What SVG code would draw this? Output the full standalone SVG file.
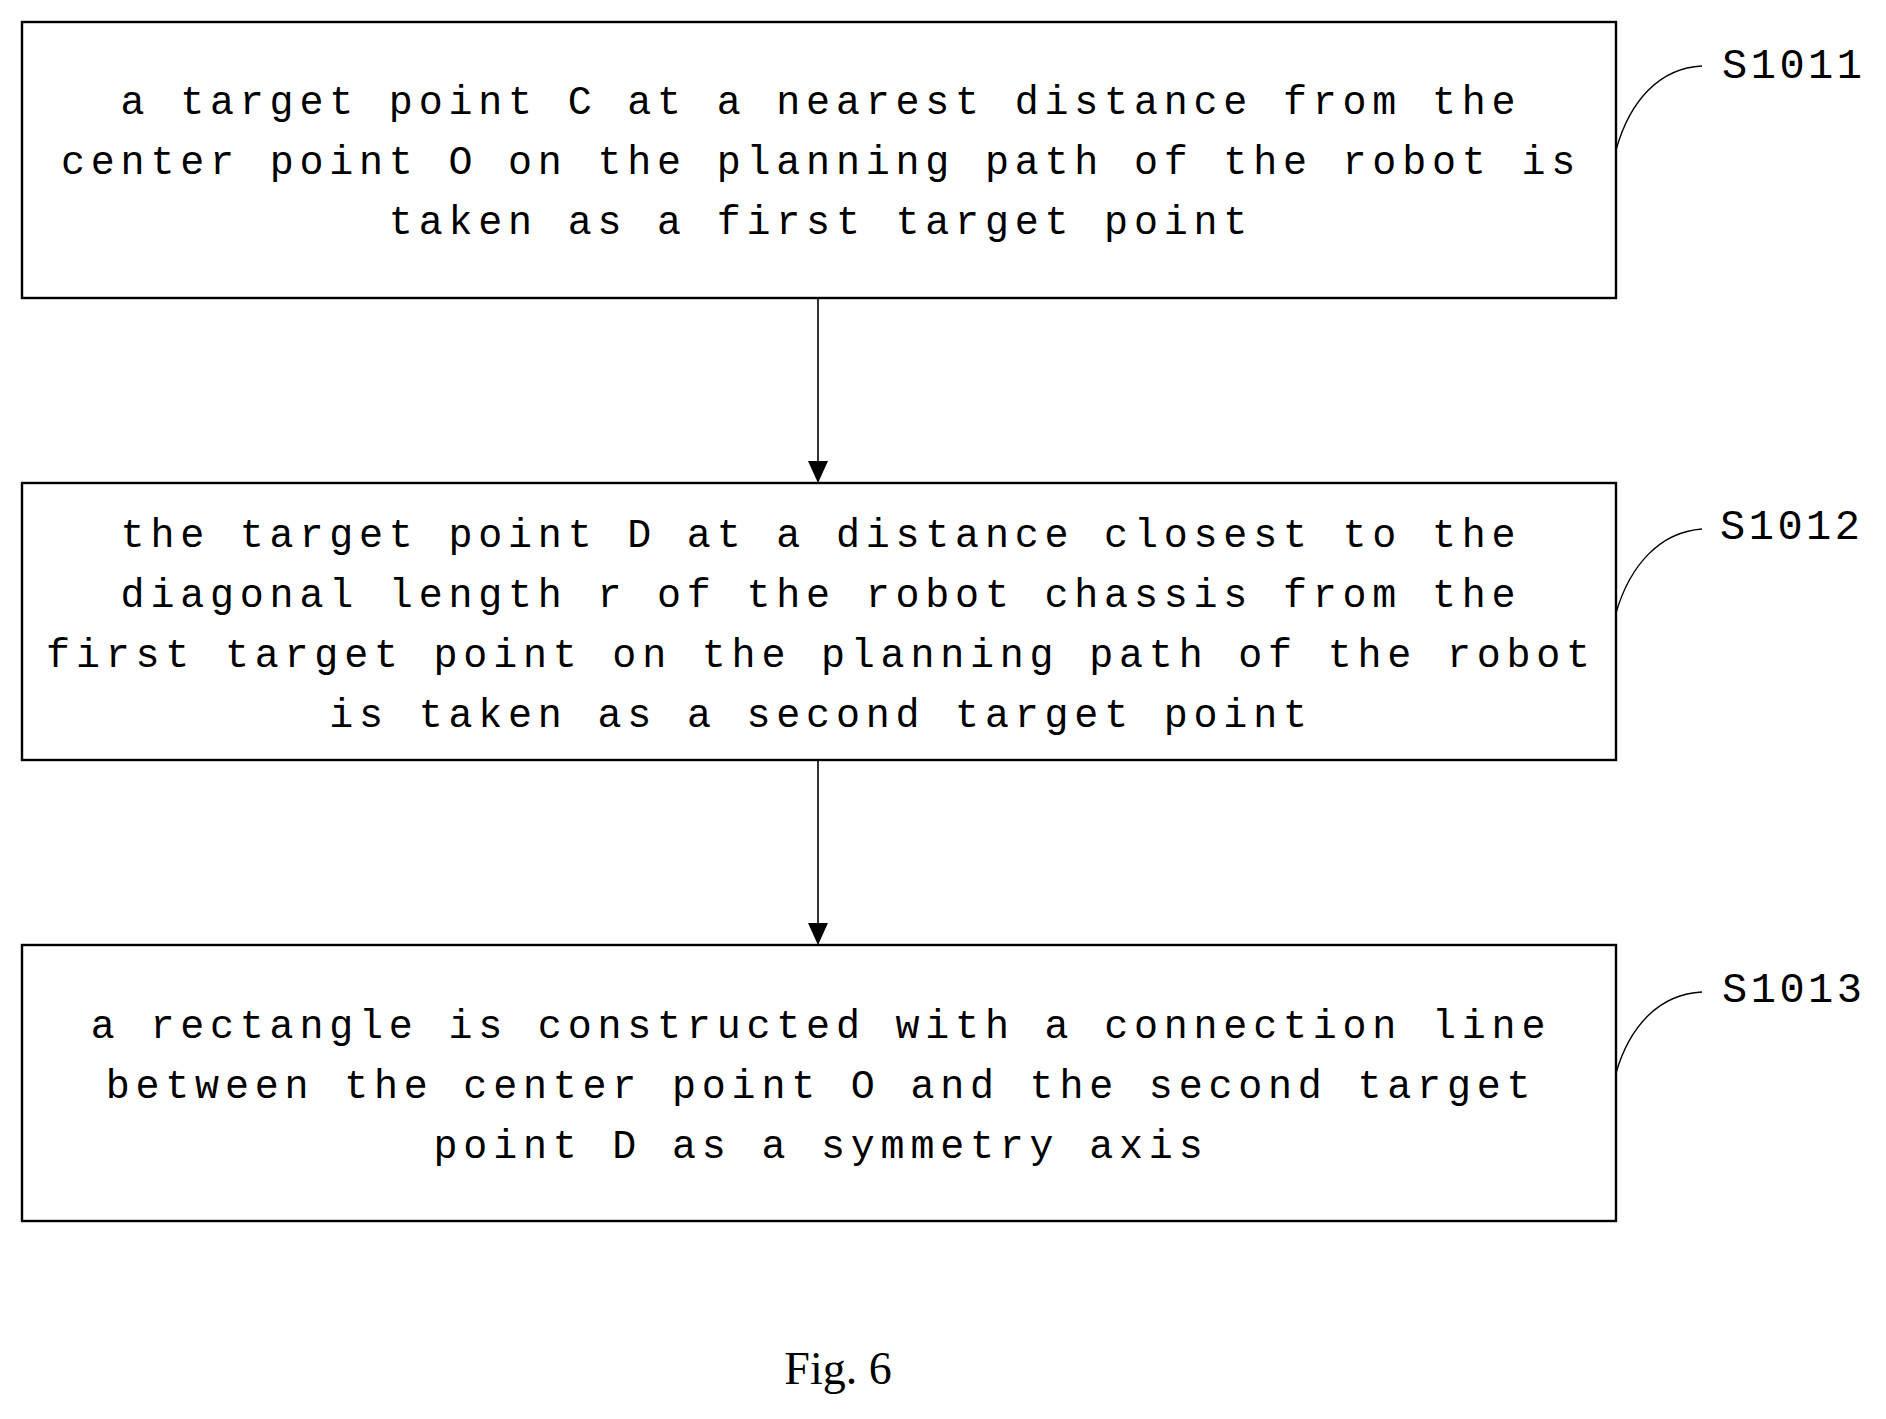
<svg xmlns="http://www.w3.org/2000/svg" width="1886" height="1419" viewBox="0 0 1886 1419">
<style>
.box{fill:#fff;stroke:#000;stroke-width:2.4}
.t{font-family:"Liberation Mono",monospace;font-size:40px;letter-spacing:5.8px;text-anchor:middle;fill:#000}
.lbl{font-family:"Liberation Mono",monospace;font-size:42px;letter-spacing:3.5px;fill:#000}
.lead{fill:none;stroke:#000;stroke-width:1.4}
.conn{stroke:#000;stroke-width:1.6}
</style>
<defs><marker id="ah" markerWidth="20" markerHeight="22" refX="22" refY="10" orient="auto" markerUnits="userSpaceOnUse"><path d="M0,0 L22,10 L0,20 Z" fill="#000"/></marker></defs>
<rect width="1886" height="1419" fill="#fff"/>
<g id="n1"><rect class="box" x="22" y="22" width="1594" height="276"/>
<text class="t" x="821" y="114">a target point C at a nearest distance from the</text>
<text class="t" x="821" y="174">center point O on the planning path of the robot is</text>
<text class="t" x="821" y="234">taken as a first target point</text>
<path class="lead" d="M1616,150 C1630,100 1660,68 1702,66"/><text class="lbl" x="1722" y="78">S1011</text></g>
<g id="n2"><rect class="box" x="22" y="483" width="1594" height="277"/>
<text class="t" x="821" y="547">the target point D at a distance closest to the</text>
<text class="t" x="821" y="607">diagonal length r of the robot chassis from the</text>
<text class="t" x="821" y="667">first target point on the planning path of the robot</text>
<text class="t" x="821" y="727">is taken as a second target point</text>
<path class="lead" d="M1616,613 C1630,565 1660,532 1702,529"/><text class="lbl" x="1720" y="539">S1012</text></g>
<g id="n3"><rect class="box" x="22" y="945" width="1594" height="276"/>
<text class="t" x="821" y="1038">a rectangle is constructed with a connection line</text>
<text class="t" x="821" y="1098">between the center point O and the second target</text>
<text class="t" x="821" y="1158">point D as a symmetry axis</text>
<path class="lead" d="M1616,1073 C1630,1025 1660,994 1702,992"/><text class="lbl" x="1722" y="1002">S1013</text></g>
<g id="connectors">
<line class="conn" x1="818" y1="298" x2="818" y2="483" marker-end="url(#ah)"/>
<line class="conn" x1="818" y1="760" x2="818" y2="945" marker-end="url(#ah)"/>
</g>
<text x="838" y="1384" font-family="Liberation Serif,serif" font-size="46" text-anchor="middle">Fig. 6</text>
</svg>
